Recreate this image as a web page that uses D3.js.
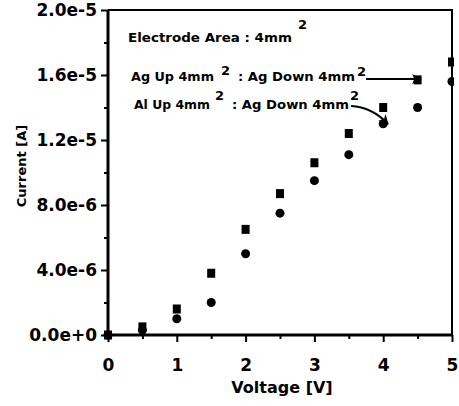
<!DOCTYPE html>
<html>
<head>
<meta charset="utf-8">
<script src="https://cdn.jsdelivr.net/npm/d3@7"></script>
<style>
  body { margin: 0; background: #fff; }
  text { font-family: "DejaVu Sans", sans-serif; font-weight: bold; fill: #000; }
</style>
</head>
<body>
<div id="chart"></div>
<script>
// datos
const voltage = [0, 0.5, 1, 1.5, 2, 2.5, 3, 3.5, 4, 4.5, 5];
const agUp = [0, 0.5e-6, 1.6e-6, 3.8e-6, 6.5e-6, 8.7e-6, 10.6e-6, 12.4e-6, 14.0e-6, 15.7e-6, 16.8e-6];
const alUp = [0, 0.3e-6, 1.0e-6, 2.0e-6, 5.0e-6, 7.5e-6, 9.5e-6, 11.1e-6, 13.0e-6, 14.0e-6, 15.6e-6];
const xTicks = [0, 1, 2, 3, 4, 5];
const yTicks = [0, 4e-6, 8e-6, 1.2e-5, 1.6e-5, 2e-5];
const yTickLabels = ['0.0e+0', '4.0e-6', '8.0e-6', '1.2e-5', '1.6e-5', '2.0e-5'];

const W = 459, H = 406;
const margin = { top: 10, right: 7, bottom: 71, left: 108 };
const width = W - margin.left - margin.right;
const height = H - margin.top - margin.bottom;

const svg = d3.select('#chart').append('svg')
    .attr('width', W)
    .attr('height', H);

const g = svg.append('g')
    .attr('transform', `translate(${margin.left},${margin.top})`);

const x = d3.scaleLinear().domain([0, 5]).range([0, width]);
const y = d3.scaleLinear().domain([0, 2e-5]).range([height, 0]);

// marco superior y derecho
g.append('path')
    .attr('d', `M0,0H${width}V${height}`)
    .attr('fill', 'none')
    .attr('stroke', '#000')
    .attr('stroke-width', 2);

// ticks menores
g.append('g')
    .attr('transform', `translate(0,${height})`)
    .call(d3.axisBottom(x).tickValues(d3.range(0.5, 5, 1)).tickSize(4).tickFormat(''))
    .call(s => s.select('.domain').remove())
    .selectAll('line').attr('stroke-width', 2);
g.append('g')
    .call(d3.axisLeft(y).tickValues(d3.range(2e-6, 2e-5, 4e-6)).tickSize(4).tickFormat(''))
    .call(s => s.select('.domain').remove())
    .selectAll('line').attr('stroke-width', 2);

// Eje X
const xAxis = g.append('g')
    .attr('transform', `translate(0,${height})`)
    .call(d3.axisBottom(x).tickValues(xTicks).tickSize(7).tickFormat(d3.format('d')));
xAxis.select('.domain').attr('stroke-width', 3).attr('d', `M0,0H${width}`);
xAxis.selectAll('line').attr('stroke-width', 2);
xAxis.selectAll('text').attr('y', 36).attr('dy', 0).style('font-size', '17px');

// Eje Y
const yAxis = g.append('g')
    .call(d3.axisLeft(y).tickValues(yTicks).tickSize(7).tickPadding(4).tickFormat((d, i) => yTickLabels[i]));
yAxis.select('.domain').attr('stroke-width', 3).attr('d', `M0,${height}V0`);
yAxis.selectAll('line').attr('stroke-width', 2);
yAxis.selectAll('text').style('font-size', '17px');

// Puntos (recortados en el borde derecho)
g.append('clipPath').attr('id', 'clip')
    .append('rect').attr('x', -10).attr('y', -10).attr('width', width + 12).attr('height', height + 20);
const pts = g.append('g').attr('clip-path', 'url(#clip)');

const ag = voltage.map((v, i) => ({ v, c: agUp[i] }));
const al = voltage.map((v, i) => ({ v, c: alUp[i] }));

pts.selectAll('.sq').data(ag).enter().append('rect')
    .attr('class', 'sq')
    .attr('x', d => x(d.v) - 4)
    .attr('y', d => y(d.c) - 4.5)
    .attr('width', 8)
    .attr('height', 9)
    .attr('fill', '#000');

pts.selectAll('.ci').data(al).enter().append('circle')
    .attr('class', 'ci')
    .attr('cx', d => x(d.v))
    .attr('cy', d => y(d.c))
    .attr('r', 4.5)
    .attr('fill', '#000');

// Anotaciones
function txt(tx, ty, s, size, len) {
    const t = svg.append('text')
        .attr('x', tx)
        .attr('y', ty)
        .style('font-size', size + 'px')
        .text(s);
    if (len) t.attr('textLength', len).attr('lengthAdjust', 'spacingAndGlyphs');
}
txt(128, 42, 'Electrode Area : 4mm', 13, 164);
txt(298, 29, '2', 13);
txt(131, 81, 'Ag Up 4mm', 13, 83);
txt(221, 75, '2', 13);
txt(238, 81, ': Ag Down 4mm', 13, 117);
txt(357, 76, '2', 13);
txt(134, 109, 'Al Up 4mm', 13, 76);
txt(215, 100, '2', 13);
txt(232, 109, ': Ag Down 4mm', 13, 117);
txt(350, 100, '2', 13);

svg.append('defs').append('marker')
    .attr('id', 'arr')
    .attr('viewBox', '0 0 10 10')
    .attr('refX', 9).attr('refY', 5)
    .attr('markerWidth', 6).attr('markerHeight', 5)
    .attr('orient', 'auto')
    .append('path').attr('d', 'M0,0L10,5L0,10L3,5Z').attr('fill', '#000');

svg.append('path')
    .attr('d', 'M366,79L421,79')
    .attr('fill', 'none').attr('stroke', '#000').attr('stroke-width', 2)
    .attr('marker-end', 'url(#arr)');
svg.append('path')
    .attr('d', 'M351,106Q372,107 388,124')
    .attr('fill', 'none').attr('stroke', '#000').attr('stroke-width', 2)
    .attr('marker-end', 'url(#arr)');

// Etiquetas de los ejes
svg.append('text')
    .attr('transform', 'translate(26,166) rotate(-90)')
    .style('text-anchor', 'middle')
    .style('font-size', '13px')
    .text('Current [A]');

svg.append('text')
    .attr('x', 282)
    .attr('y', 393)
    .style('text-anchor', 'middle')
    .style('font-size', '16px')
    .text('Voltage [V]');
</script>
</body>
</html>
